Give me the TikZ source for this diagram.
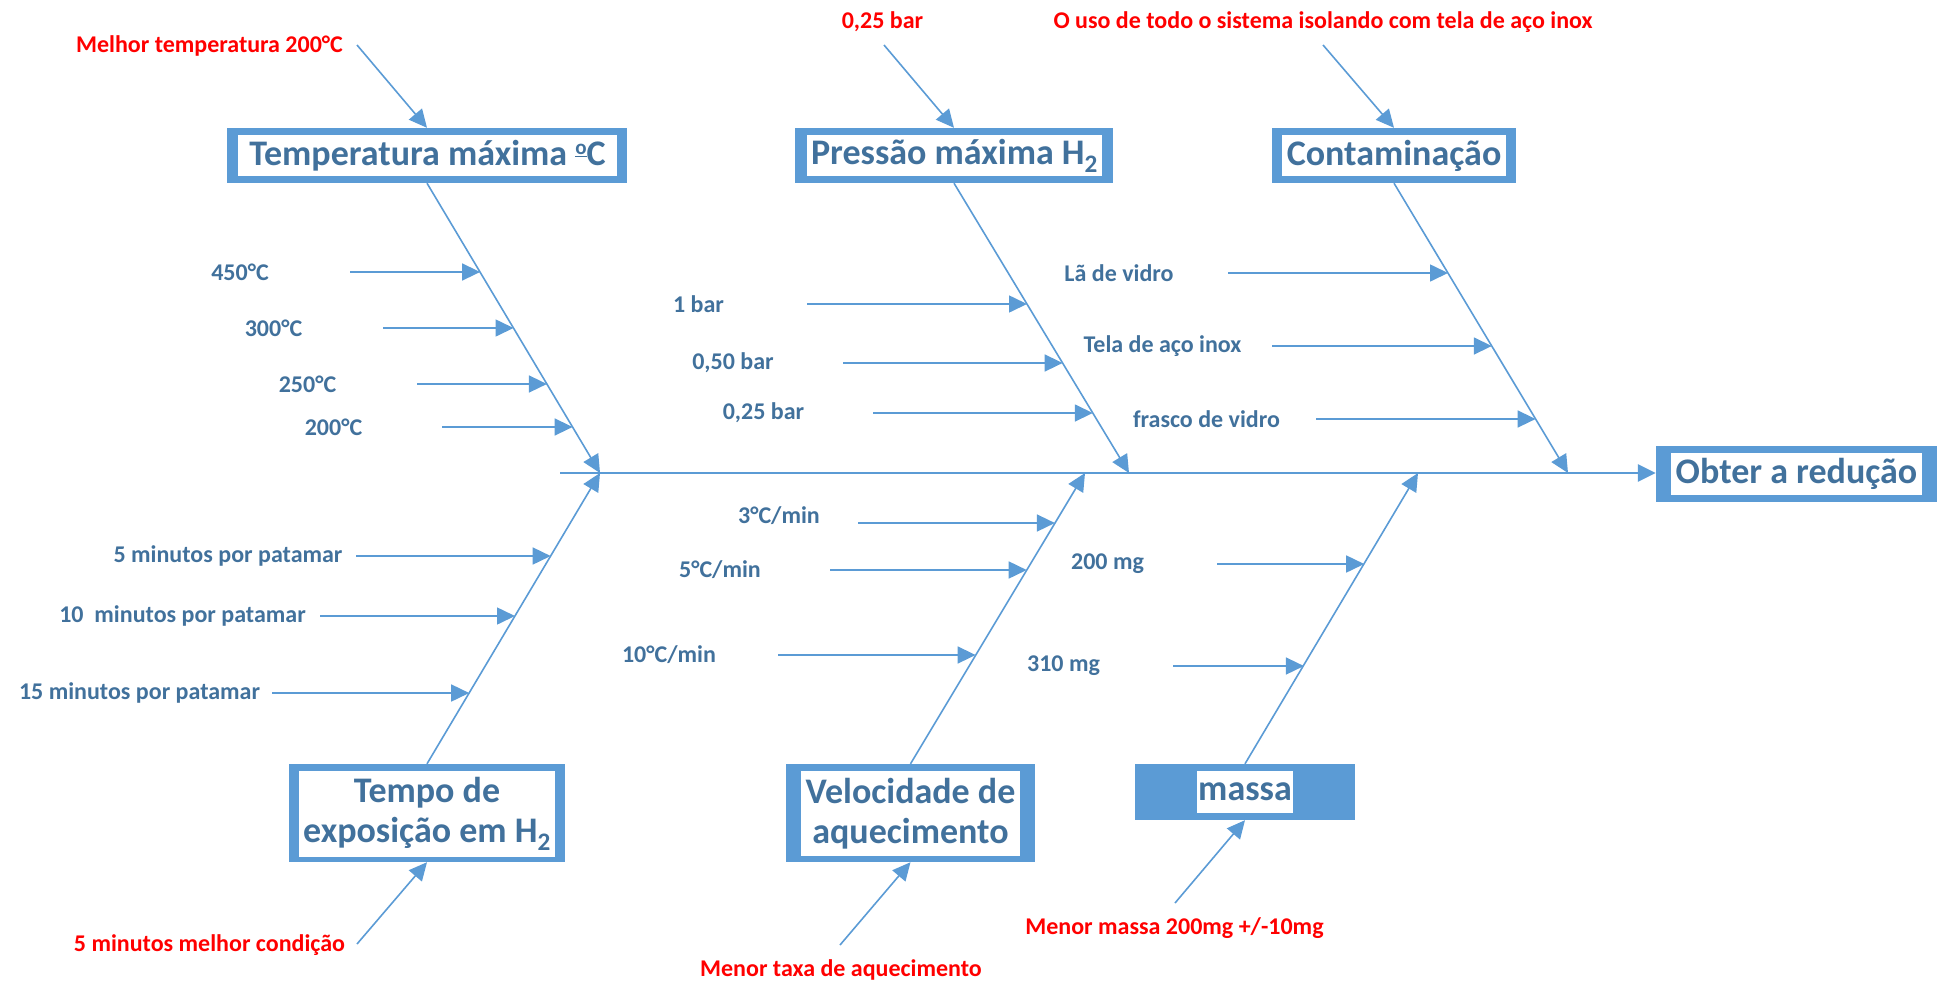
\documentclass[tikz,border=0pt]{standalone}
\usepackage{fontspec}
\setmainfont{Carlito}
\usetikzlibrary{arrows.meta}
\definecolor{lineblue}{HTML}{5B9BD5}
\definecolor{textblue}{HTML}{41719C}
\definecolor{notered}{HTML}{FF0000}
% masculine ordinal drawn as a raised, underlined o
\newcommand\ordo{\raisebox{0.3em}{\fontsize{21}{21}\selectfont\underline{o}}}
\tikzset{
  tip/.style={-{Triangle[length=18pt,width=17pt]}},
  frame/.style={fill=lineblue, inner sep=0pt},
  title/.style={fill=white, inner sep=0pt, text=textblue, align=center,
    font=\fontsize{36}{40}\selectfont\bfseries},
  lbl/.style={text=textblue, inner sep=0pt, font=\fontsize{24}{28}\selectfont\bfseries},
  note/.style={text=notered, inner sep=0pt, font=\fontsize{24}{28}\selectfont\bfseries},
  bone/.style={draw=lineblue, line width=1.6pt, tip},
  sub/.style={draw=lineblue, line width=1.6pt, tip},
  spine/.style={draw=lineblue, line width=2.6pt, tip},
}
\begin{document}
\begin{tikzpicture}[x=1pt,y=-1pt]
\useasboundingbox (0,0) rectangle (1942,983);

% category boxes: blue frame with a white title panel
\node[frame, minimum width=400pt, minimum height=55pt] (temp) at (427,155.5) {};
\node[title, minimum width=379pt, minimum height=41pt] (tempT) at (427.5,155.5) {Temperatura máxima \ordo C};
\node[frame, minimum width=318pt, minimum height=55pt] (pres) at (954,155.5) {};
\node[title, minimum width=295pt, minimum height=41pt] (presT) at (954.5,155.5) {Pressão máxima H\textsubscript{2}};
\node[frame, minimum width=244pt, minimum height=55pt] (cont) at (1394,155.5) {};
\node[title, minimum width=224pt, minimum height=41pt] (contT) at (1394,155.5) {Contaminação};
\node[frame, minimum width=281pt, minimum height=56pt] (head) at (1796.5,473.5) {};
\node[title, minimum width=251pt, minimum height=42pt] (headT) at (1796.5,473.5) {Obter a redução};
\node[frame, minimum width=276pt, minimum height=98pt] (tempo) at (427,813) {};
\node[title, minimum width=256pt, minimum height=86pt] (tempoT) at (427,814) {Tempo de\\exposição em H\textsubscript{2}};
\node[frame, minimum width=249pt, minimum height=98pt] (vel) at (910.5,813) {};
\node[title, minimum width=219pt, minimum height=85pt] (velT) at (910.5,813.5) {Velocidade de\\aquecimento};
\node[frame, minimum width=220pt, minimum height=56pt] (massa) at (1245,792) {};
\node[title, minimum width=96pt, minimum height=42pt] (massaT) at (1245,792) {massa};

% spine and its junctions
\coordinate (tail) at (560,473);
\coordinate (j1) at (600,473);
\coordinate (j2) at (1129,473);
\coordinate (j3) at (1568,473);
\coordinate (j5) at (1085,473);
\coordinate (j6) at (1418,473);
\draw[spine] (tail) -- (tail -| head.west);

% main bones
\draw[bone] (temp.south) -- (j1);
\draw[bone] (pres.south) -- (j2);
\draw[bone] (cont.south) -- (j3);
\draw[bone] (tempo.north) -- (j1);
\draw[bone] (vel.north) -- (j5);
\draw[bone] (massa.north) -- (j6);

% causes: name / text / text x / text y / arrow start x / arrow end x / arrow y
\foreach \nm/\txt/\tx/\ty/\sx/\ex/\ay in {
  c450/{450°C}/240/272/350/480.1/272,
  c300/{300°C}/273.5/328/383/513.5/328,
  c250/{250°C}/307.5/384/417/546.9/384,
  c200/{200°C}/333.5/427/442/572.6/427,
  b100/{1 bar}/698.5/304/807/1027/304,
  b050/{0,50 bar}/733/363/843/1062.6/363,
  b025/{0,25 bar}/763.5/413/873/1092.8/413,
  lv/{Lã de vidro}/1119/273/1228/1448/273,
  ti/{Tela de aço inox}/1162.5/346/1272/1491.8/346,
  fv/{frasco de vidro}/1206.5/419/1316/1535.6/419,
  m05/{5 minutos por patamar}/228/556/356/550.7/556,
  m10/{10\ \ minutos por patamar}/182.5/616/320/515/616,
  m15/{15 minutos por patamar}/139.5/693/272/469.2/693,
  r3/{3°C/min}/779/516/858/1054.9/523,
  r5/{5°C/min}/720/570/830/1026.7/570,
  r10/{10°C/min}/669/655/778/975.6/655,
  g200/{200 mg}/1107.5/564/1217/1364.2/564,
  g310/{310 mg}/1063.5/666/1173/1303.9/666%
}{
  \node[lbl] (\nm) at (\tx,\ty) {\txt};
  \coordinate (\nm-s) at (\sx,\ay);
  \coordinate (\nm-e) at (\ex,\ay);
  \draw[sub] (\nm-s) -- (\nm-e);
}

% best-condition notes
\node[note] (n1) at (209.5,46) {Melhor temperatura 200°C};
\node[note] (n2) at (882.5,22) {0,25 bar};
\node[note] (n3) at (1323,22) {O uso de todo o sistema isolando com tela de aço inox};
\node[note] (n4) at (209.5,945) {5 minutos melhor condição};
\node[note] (n5) at (841,970) {Menor taxa de aquecimento};
\node[note] (n6) at (1174.5,928) {Menor massa 200mg +/-10mg};
\coordinate (n1-s) at (357,45);
\coordinate (n2-s) at (884,45);
\coordinate (n3-s) at (1323,45);
\coordinate (n4-s) at (357,944);
\coordinate (n5-s) at (840,945);
\coordinate (n6-s) at (1175,903);
\draw[sub] (n1-s) -- (temp.north);
\draw[sub] (n2-s) -- (pres.north);
\draw[sub] (n3-s) -- (cont.north);
\draw[sub] (n4-s) -- (tempo.south);
\draw[sub] (n5-s) -- (vel.south);
\draw[sub] (n6-s) -- (massa.south);
\end{tikzpicture}
\end{document}
